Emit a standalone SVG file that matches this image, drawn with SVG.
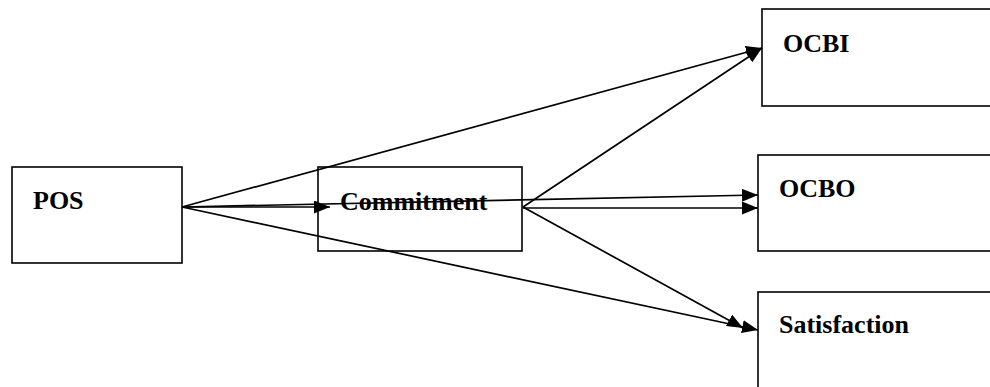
<svg xmlns="http://www.w3.org/2000/svg" width="990" height="387" viewBox="0 0 990 387">
<style>
.box{fill:#fff;stroke:#000;stroke-width:1.6}
.lbl{font-family:"Liberation Serif","Times New Roman",serif;font-weight:bold;font-size:26px;fill:#000}
.edge{stroke:#000;stroke-width:1.7;fill:none;marker-end:url(#ah)}
</style>
<defs>
<marker id="ah" markerWidth="16" markerHeight="13" refX="16" refY="6.5" orient="auto" markerUnits="userSpaceOnUse">
<path d="M0,0 L16,6.5 L0,13 Z" fill="#000"/>
</marker>
</defs>
<rect width="990" height="387" fill="#fff"/>
<g id="node-pos"><rect class="box" x="12" y="167" width="170" height="96"/><text class="lbl" x="33" y="209">POS</text></g>
<g id="node-commitment"><rect class="box" x="318" y="167" width="204" height="84"/></g>
<g id="node-ocbi"><rect class="box" x="762" y="9" width="240" height="97"/><text class="lbl" x="783" y="52">OCBI</text></g>
<g id="node-ocbo"><rect class="box" x="758" y="155" width="240" height="96"/><text class="lbl" x="779" y="197">OCBO</text></g>
<g id="node-satisfaction"><rect class="box" x="758" y="292" width="240" height="110"/><text class="lbl" x="779" y="333">Satisfaction</text></g>
<g id="connectors">
<line class="edge" x1="182" y1="207" x2="330" y2="207"/>
<line class="edge" x1="182" y1="207" x2="762" y2="48"/>
<line class="edge" x1="182" y1="207" x2="758" y2="195"/>
<line class="edge" x1="182" y1="207" x2="758" y2="330"/>
<line class="edge" x1="523" y1="207" x2="762" y2="48"/>
<line class="edge" x1="523" y1="208" x2="758" y2="208"/>
<line class="edge" x1="523" y1="207" x2="743" y2="328"/>
</g>
<text class="lbl" x="340" y="210">Commitment</text>
</svg>
